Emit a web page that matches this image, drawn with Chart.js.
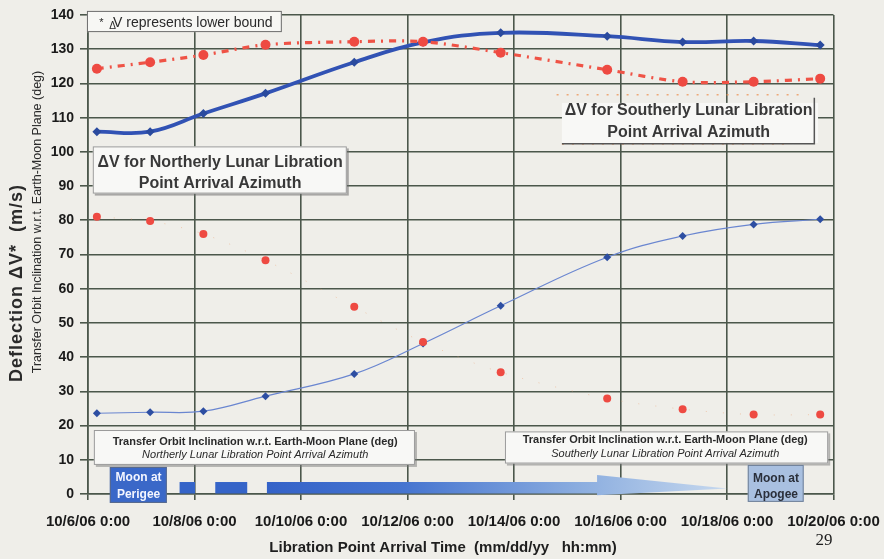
<!DOCTYPE html>
<html>
<head>
<meta charset="utf-8">
<script src="https://cdn.jsdelivr.net/npm/chart.js@4.4.1/dist/chart.umd.min.js"></script>
<style>
  html, body { margin: 0; padding: 0; background: #efeee9; }
  #wrap { width: 884px; height: 559px; }
</style>
</head>
<body>
<div id="wrap"><canvas id="c" width="884" height="559"></canvas></div>
<script>
// Libration point arrival times (mm/dd/yy hh:mm)
const arrivalTimes = [
  "10/6/06 4:00", "10/7/06 4:00", "10/8/06 4:00", "10/9/06 8:00", "10/11/06 0:00",
  "10/12/06 7:00", "10/13/06 18:00", "10/15/06 18:00", "10/17/06 4:00", "10/18/06 12:00", "10/19/06 18:00"
];
// Deflection delta-V (m/s), northerly / southerly arrival azimuth
const dvNortherly = [105.9, 105.9, 111.2, 117.1, 126.2, 132.0, 134.8, 133.8, 132.1, 132.4, 131.2];
const dvSoutherly = [124.3, 126.2, 128.3, 131.3, 132.2, 132.2, 129.0, 124.0, 120.5, 120.5, 121.4];
// Transfer orbit inclination w.r.t. Earth-Moon plane (deg)
const inclNortherly = [23.6, 23.9, 24.2, 28.6, 35.1, 44.0, 55.0, 69.2, 75.4, 78.8, 80.3];
const inclSoutherly = [81.0, 79.8, 76.0, 68.3, 54.7, 44.4, 35.6, 27.9, 24.8, 23.2, 23.2];

const xTickLabels = [
  "10/6/06 0:00", "10/8/06 0:00", "10/10/06 0:00", "10/12/06 0:00",
  "10/14/06 0:00", "10/16/06 0:00", "10/18/06 0:00", "10/20/06 0:00"
];
const yTickValues = [0, 10, 20, 30, 40, 50, 60, 70, 80, 90, 100, 110, 120, 130, 140];

// days elapsed since 10/6/06 0:00
function daysFromStart(s) {
  const [date, time] = s.split(" ");
  const [, dd] = date.split("/").map(Number);
  const [hh, mm] = time.split(":").map(Number);
  return (dd - 6) + hh / 24 + mm / 1440;
}
const pts = vals => vals.map((v, i) => ({ x: daysFromStart(arrivalTimes[i]), y: v }));

const FONT = "'Liberation Sans', Arial, sans-serif";
const GRID = "#4b574b";

function panel(ctx, x0, y0, x1, y1, fill, stroke, shadow) {
  if (shadow) {
    ctx.fillStyle = shadow;
    ctx.fillRect(x0 + 2, y0 + 2, x1 - x0, y1 - y0);
  }
  ctx.fillStyle = fill;
  ctx.fillRect(x0, y0, x1 - x0, y1 - y0);
  if (stroke) {
    ctx.strokeStyle = stroke;
    ctx.lineWidth = 1;
    ctx.strokeRect(x0 + 0.5, y0 + 0.5, x1 - x0 - 1, y1 - y0 - 1);
  }
}

function text(ctx, str, x, y, font, color, align) {
  ctx.font = font;
  ctx.fillStyle = color;
  ctx.textAlign = align || "center";
  ctx.textBaseline = "middle";
  ctx.fillText(str, x, y);
}

const annotations = {
  id: "annotations",
  afterDraw(chart) {
    const ctx = chart.ctx;
    const X = v => chart.scales.x.getPixelForValue(v);
    const Y = v => chart.scales.y.getPixelForValue(v);
    ctx.save();

    // lower-bound note
    panel(ctx, X(-0.02), Y(141.2), X(3.64), Y(135.0), "#f7f7f4", "#6a6a6a", null);
    ctx.textBaseline = "alphabetic";
    ctx.fillStyle = "#2a2a2a";
    ctx.textAlign = "left";
    ctx.font = "11px " + FONT;
    ctx.fillText("*", X(0.21), Y(136.9));
    ctx.font = "10px " + FONT;
    ctx.fillText("\u0394", X(0.40), Y(135.8));
    ctx.font = "14px " + FONT;
    ctx.fillText("V represents lower bound", X(0.47), Y(136.6));

    // delta-V series labels
    panel(ctx, X(0.09), Y(101.6), X(4.86), Y(87.8), "#f8f8f6", "#9a9a9a", "rgba(110,110,110,0.55)");
    text(ctx, "\u0394V for Northerly Lunar Libration", X(2.48), Y(96.8), "bold 16px " + FONT, "#383838");
    text(ctx, "Point Arrival Azimuth", X(2.48), Y(90.8), "bold 16px " + FONT, "#383838");

    // southerly label with dotted trim
    ctx.strokeStyle = "rgba(236,150,90,0.8)";
    ctx.lineWidth = 1.5;
    ctx.setLineDash([2, 8]);
    ctx.beginPath();
    ctx.moveTo(X(8.8), Y(116.7)); ctx.lineTo(X(13.4), Y(116.7));
    ctx.moveTo(X(8.9), Y(102.3)); ctx.lineTo(X(13.2), Y(102.3));
    ctx.stroke();
    ctx.setLineDash([]);
    panel(ctx, X(8.90), Y(114.3), X(13.71), Y(102.6), "#f8f8f6", null, null);
    ctx.strokeStyle = "#555";
    ctx.lineWidth = 1.5;
    ctx.beginPath();
    ctx.moveTo(X(8.90), Y(102.4));
    ctx.lineTo(X(13.64), Y(102.4));
    ctx.lineTo(X(13.64), Y(115.8));
    ctx.stroke();
    text(ctx, "\u0394V for Southerly Lunar Libration", X(11.28), Y(112.0), "bold 16px " + FONT, "#383838");
    text(ctx, "Point Arrival Azimuth", X(11.28), Y(105.7), "bold 16px " + FONT, "#383838");

    // inclination series labels
    panel(ctx, X(0.11), Y(18.7), X(6.14), Y(8.5), "#f8f8f6", "#9a9a9a", "rgba(120,120,120,0.5)");
    text(ctx, "Transfer Orbit Inclination w.r.t. Earth-Moon Plane (deg)", X(3.14), Y(15.3), "bold 11px " + FONT, "#2a2a2a");
    text(ctx, "Northerly Lunar Libration Point Arrival Azimuth", X(3.14), Y(11.4), "italic 11px " + FONT, "#2a2a2a");
    panel(ctx, X(7.83), Y(18.3), X(13.90), Y(8.9), "#f8f8f6", "#9a9a9a", "rgba(120,120,120,0.5)");
    text(ctx, "Transfer Orbit Inclination w.r.t. Earth-Moon Plane (deg)", X(10.84), Y(15.8), "bold 11px " + FONT, "#2a2a2a");
    text(ctx, "Southerly Lunar Libration Point Arrival Azimuth", X(10.84), Y(11.6), "italic 11px " + FONT, "#2a2a2a");

    // lunar distance bar: perigee -> apogee
    ctx.fillStyle = "#3564c8";
    ctx.fillRect(X(1.72), Y(3.5), X(2.01) - X(1.72), Y(0.15) - Y(3.5));
    ctx.fillRect(X(2.39), Y(3.5), X(2.99) - X(2.39), Y(0.15) - Y(3.5));
    const g = ctx.createLinearGradient(X(3.36), 0, X(12.0), 0);
    g.addColorStop(0, "#3462c8");
    g.addColorStop(0.3, "#4675d0");
    g.addColorStop(0.7, "#8fb0e0");
    g.addColorStop(1, "#c6d8ee");
    ctx.fillStyle = g;
    ctx.beginPath();
    ctx.moveTo(X(3.36), Y(3.5));
    ctx.lineTo(X(9.56), Y(3.5));
    ctx.lineTo(X(9.56), Y(5.55));
    ctx.lineTo(X(12.0), Y(1.6));
    ctx.lineTo(X(9.56), Y(-0.4));
    ctx.lineTo(X(9.56), Y(0.15));
    ctx.lineTo(X(3.36), Y(0.15));
    ctx.closePath();
    ctx.fill();

    panel(ctx, X(0.41), Y(7.9), X(1.48), Y(-2.6), "#3a68c8", "#5a6a8a", null);
    text(ctx, "Moon at", X(0.95), Y(4.9), "bold 12px " + FONT, "#f4f6ff");
    text(ctx, "Perigee", X(0.95), Y(-0.3), "bold 12px " + FONT, "#f4f6ff");
    panel(ctx, X(12.39), Y(8.5), X(13.44), Y(-2.3), "#a9c0e0", "#6f7f96", null);
    text(ctx, "Moon at", X(12.92), Y(4.6), "bold 12px " + FONT, "#2a2f3a");
    text(ctx, "Apogee", X(12.92), Y(-0.3), "bold 12px " + FONT, "#2a2f3a");

    // axis titles
    ctx.save();
    ctx.translate(17.5, 283);
    ctx.rotate(-Math.PI / 2);
    ctx.letterSpacing = "1px";
    text(ctx, "Deflection \u0394V*  (m/s)", 0, 0, "bold 18px " + FONT, "#2a2a2a");
    ctx.restore();
    ctx.save();
    ctx.translate(38, 222);
    ctx.rotate(-Math.PI / 2);
    text(ctx, "Transfer Orbit Inclination w.r.t. Earth-Moon Plane (deg)", 0, 0, "12.5px " + FONT, "#2a2a2a");
    ctx.restore();

    text(ctx, "Libration Point Arrival Time  (mm/dd/yy   hh:mm)", 443, 548, "bold 15px " + FONT, "#1e1e1e");
    text(ctx, "29", 824, 541, "17px 'Liberation Serif', 'Times New Roman', serif", "#1e1e1e");

    ctx.restore();
  }
};

new Chart(document.getElementById("c"), {
  type: "line",
  data: {
    datasets: [
      {
        label: "\u0394V southerly",
        data: pts(dvSoutherly),
        borderColor: "#ef5346",
        borderWidth: 3.2,
        borderDash: [7, 6, 2, 6],
        pointRadius: 5,
        pointBackgroundColor: "#ee4a42",
        pointBorderWidth: 0,
        tension: 0.3,
        order: 0
      },
      {
        label: "\u0394V northerly",
        data: pts(dvNortherly),
        borderColor: "#3152b4",
        borderWidth: 3.8,
        pointStyle: "rectRot",
        pointRadius: 4.5,
        pointBackgroundColor: "#2a4a9e",
        pointBorderWidth: 0,
        tension: 0.4,
        order: 1
      },
      {
        label: "Inclination southerly",
        data: pts(inclSoutherly),
        borderColor: "rgba(240,165,120,0.5)",
        borderWidth: 1,
        borderDash: [1, 16],
        pointRadius: 4,
        pointBackgroundColor: "#ee4a42",
        pointBorderWidth: 0,
        tension: 0.3,
        order: 0
      },
      {
        label: "Inclination northerly",
        data: pts(inclNortherly),
        borderColor: "#6a86d0",
        borderWidth: 1.2,
        pointStyle: "rectRot",
        pointRadius: 4,
        pointBackgroundColor: "#2d4ea2",
        pointBorderWidth: 0,
        tension: 0.4,
        order: 1
      }
    ]
  },
  options: {
    responsive: false,
    animation: false,
    devicePixelRatio: 1,
    layout: { padding: { top: 15, right: 50.5, left: 0, bottom: 0 } },
    plugins: { legend: { display: false }, tooltip: { enabled: false } },
    scales: {
      x: {
        type: "linear",
        min: 0,
        max: 14,
        afterBuildTicks: s => { s.ticks = xTickLabels.map(l => ({ value: daysFromStart(l) })); },
        afterFit: s => { s.height = 65; s.paddingLeft = 0; s.paddingRight = 0; },
        ticks: {
          callback: (v, i) => xTickLabels[i],
          font: { family: FONT, size: 15, weight: "bold" },
          color: "#1a1a1a",
          padding: 13,
          maxRotation: 0,
          autoSkip: false
        },
        grid: { color: GRID, lineWidth: 1.6, tickLength: 6, tickColor: GRID },
        border: { color: GRID, width: 1.6 }
      },
      y: {
        min: 0,
        max: 140,
        afterBuildTicks: s => { s.ticks = yTickValues.map(v => ({ value: v })); },
        afterFit: s => { s.width = 88; s.paddingTop = 0; s.paddingBottom = 0; },
        ticks: {
          font: { family: FONT, size: 14, weight: "bold" },
          color: "#1a1a1a",
          padding: 6
        },
        grid: { color: GRID, lineWidth: 1.6, tickLength: 8, tickColor: GRID },
        border: { color: GRID, width: 1.6 }
      }
    }
  },
  plugins: [annotations]
});
</script>
</body>
</html>
